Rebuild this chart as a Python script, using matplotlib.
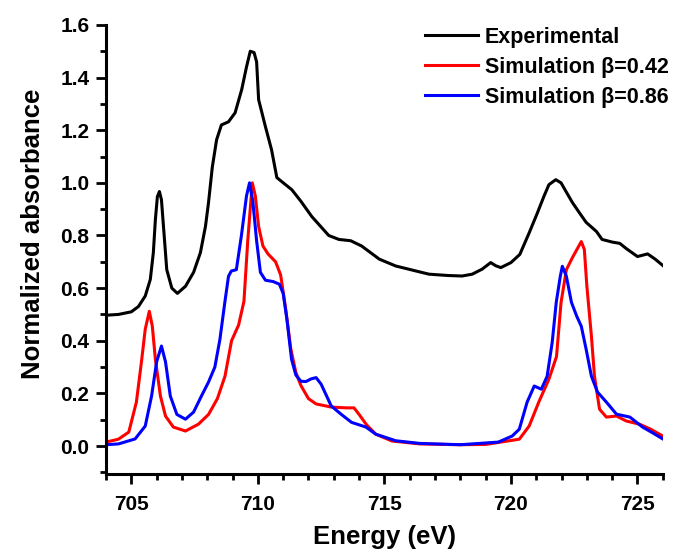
import matplotlib
matplotlib.use("Agg")
import matplotlib.pyplot as plt
from matplotlib.ticker import MultipleLocator, FormatStrFormatter

exp_e = [704.0, 704.49, 705.0, 705.28, 705.55, 705.75, 705.87, 705.95, 706.03, 706.11,
         706.19, 706.3, 706.4, 706.6, 706.82, 707.14, 707.46, 707.73, 707.93, 708.05,
         708.2, 708.37, 708.56, 708.84, 709.1, 709.36, 709.55, 709.7, 709.85, 709.95,
         710.03, 710.3, 710.54, 710.75, 710.94, 711.34, 711.7, 712.13, 712.8, 713.2,
         713.67, 714.1, 714.8, 715.45, 716.25, 716.76, 717.5, 718.07, 718.47, 718.86,
         719.2, 719.4, 719.6, 720.0, 720.35, 720.72, 721.05, 721.3, 721.5, 721.77,
         721.98, 722.2, 722.43, 722.7, 722.97, 723.38, 723.6, 724.0, 724.3, 724.56,
         725.0, 725.4, 725.7, 726.0]
exp_a = [0.497, 0.50, 0.51, 0.53, 0.57, 0.633, 0.735, 0.86, 0.948, 0.967,
         0.936, 0.797, 0.67, 0.60, 0.58, 0.607, 0.66, 0.735, 0.835, 0.925,
         1.06, 1.164, 1.22, 1.232, 1.266, 1.354, 1.44, 1.50, 1.495, 1.46,
         1.316, 1.213, 1.126, 1.02, 1.005, 0.974, 0.93, 0.872, 0.80, 0.785,
         0.78, 0.76, 0.71, 0.684, 0.665, 0.653, 0.648, 0.646, 0.653, 0.672,
         0.697, 0.685, 0.678, 0.697, 0.728, 0.81, 0.887, 0.948, 0.993, 1.012,
         1.0, 0.963, 0.925, 0.887, 0.85, 0.815, 0.785, 0.775, 0.77, 0.75,
         0.72, 0.73, 0.71, 0.686]

sim1_e = [704.0, 704.49, 704.9, 705.2, 705.4, 705.55, 705.71, 705.83, 705.95, 706.15,
          706.35, 706.66, 707.14, 707.65, 708.05, 708.4, 708.7, 708.96, 709.24, 709.45,
          709.6, 709.78, 709.9, 710.03, 710.2, 710.4, 710.7, 710.9, 711.1, 711.3,
          711.5, 711.7, 712.0, 712.3, 712.9, 713.5, 713.8, 714.0, 714.3, 714.66,
          715.3, 716.4, 718.0, 719.0, 720.33, 720.72, 721.1, 721.5, 721.8, 721.98,
          722.19, 722.43, 722.78, 722.9, 723.0, 723.18, 723.3, 723.5, 723.77, 724.17,
          724.56, 725.08, 725.5, 726.0]
sim1_a = [0.015, 0.026, 0.053, 0.167, 0.32, 0.444, 0.512, 0.455, 0.33, 0.19,
          0.114, 0.072, 0.057, 0.083, 0.12, 0.18, 0.265, 0.40, 0.46, 0.55,
          0.78, 1.0, 0.95, 0.834, 0.76, 0.73, 0.70, 0.65, 0.52, 0.37,
          0.28, 0.23, 0.18, 0.16, 0.148, 0.145, 0.145, 0.12, 0.08, 0.045,
          0.019, 0.008, 0.005, 0.006, 0.026, 0.076, 0.167, 0.254, 0.34, 0.546,
          0.67, 0.716, 0.777, 0.747, 0.607, 0.417, 0.265, 0.14, 0.11, 0.114,
          0.095, 0.083, 0.065, 0.038]

sim2_e = [704.0, 704.49, 705.15, 705.55, 705.8, 706.0, 706.19, 706.35, 706.54, 706.8,
          707.14, 707.46, 707.77, 708.05, 708.3, 708.5, 708.7, 708.84, 708.95, 709.15,
          709.35, 709.55, 709.67, 709.8, 709.95, 710.1, 710.3, 710.6, 710.85, 711.0,
          711.15, 711.33, 711.5, 711.7, 711.9, 712.1, 712.3, 712.5, 712.9, 713.3,
          713.7, 714.27, 714.66, 715.45, 716.4, 718.0, 719.5, 720.05, 720.33, 720.64,
          720.92, 721.2, 721.43, 721.63, 721.79, 721.95, 722.03, 722.19, 722.39, 722.6,
          722.78, 722.97, 723.18, 723.42, 723.77, 724.17, 724.7, 725.2, 725.6, 726.0]
sim2_a = [0.005, 0.008, 0.027, 0.076, 0.19, 0.32, 0.38, 0.32, 0.19, 0.12,
          0.102, 0.129, 0.19, 0.243, 0.30, 0.405, 0.55, 0.645, 0.665, 0.67,
          0.80, 0.95, 1.0, 0.93, 0.78, 0.66, 0.63, 0.625, 0.615, 0.58,
          0.48, 0.33, 0.27, 0.246, 0.245, 0.255, 0.26, 0.235, 0.152, 0.12,
          0.09, 0.072, 0.045, 0.02, 0.01, 0.005, 0.015, 0.038, 0.064, 0.167,
          0.228, 0.216, 0.265, 0.394, 0.546, 0.645, 0.683, 0.645, 0.546, 0.493,
          0.455, 0.368, 0.265, 0.205, 0.167, 0.121, 0.11, 0.072, 0.05, 0.027]

plt.rcParams['font.family'] = ['Liberation Sans', 'DejaVu Sans']
plt.rcParams['font.weight'] = 'bold'

fig = plt.figure(figsize=(6.84, 5.54), dpi=100)
ax = fig.add_axes([0.155, 0.145, 0.814, 0.81])

ax.plot(exp_e, exp_a, color='black', lw=2.2, label='Experimental')
ax.plot(sim1_e, sim1_a, color='red', lw=2.2, label='Simulation \u03b2=0.42')
ax.plot(sim2_e, sim2_a, color='blue', lw=2.2, label='Simulation \u03b2=0.86')

ax.set_xlim(704, 726)
ax.set_ylim(-0.105, 1.6)
ax.xaxis.set_major_locator(MultipleLocator(5))
ax.xaxis.set_minor_locator(MultipleLocator(1))
ax.yaxis.set_major_locator(MultipleLocator(0.2))
ax.yaxis.set_minor_locator(MultipleLocator(0.1))
ax.yaxis.set_major_formatter(FormatStrFormatter('%.1f'))

for side in ['top', 'right']:
    ax.spines[side].set_visible(False)
for side in ['left', 'bottom']:
    ax.spines[side].set_linewidth(2.2)

ax.tick_params(which='major', direction='out', length=7, width=2, labelsize=15, pad=5)
ax.tick_params(which='minor', direction='out', length=4.5, width=2)
ax.tick_params(axis='x', which='major', pad=8)

ax.set_xlabel('Energy (eV)', fontsize=18.5, fontweight='bold', labelpad=8)
ax.set_ylabel('Normalized absorbance', fontsize=18.5, fontweight='bold')
ax.yaxis.set_label_coords(-0.11, 0.535)

ax.legend(loc='upper right', frameon=False, fontsize=15.5, handlelength=2.5,
          borderaxespad=0.1, labelspacing=0.42, handletextpad=0.3,
          bbox_to_anchor=(1.03, 1.02))

fig.savefig('out.png', dpi=100)
